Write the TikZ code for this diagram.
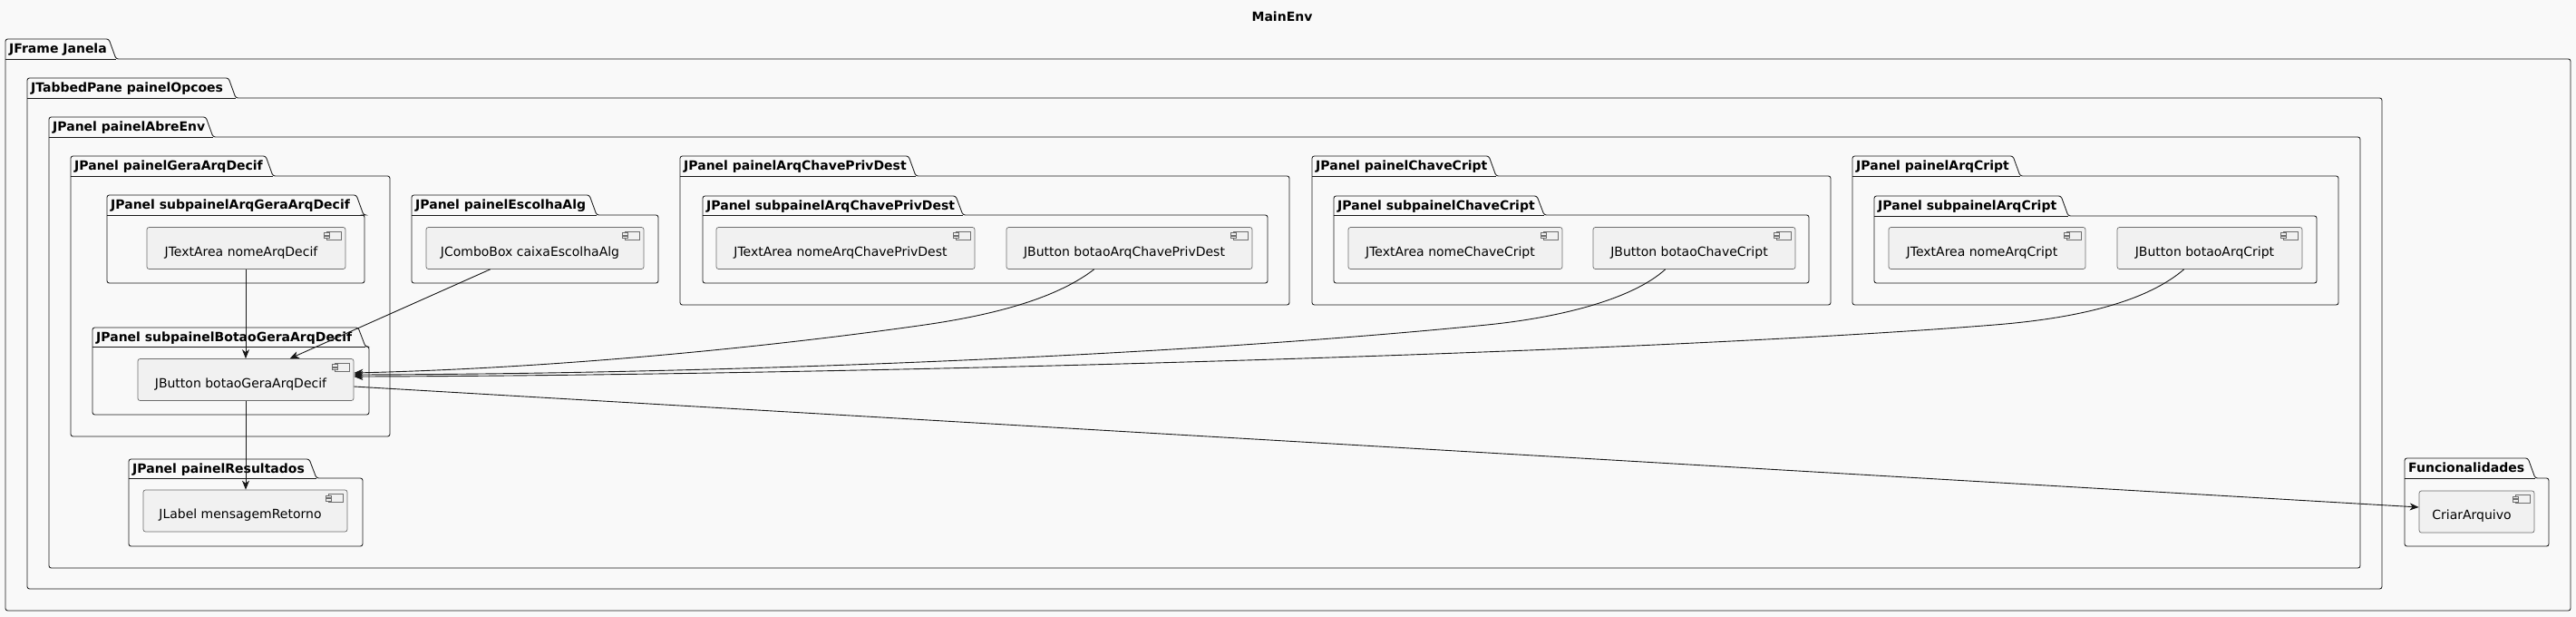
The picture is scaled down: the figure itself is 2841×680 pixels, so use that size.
\documentclass[tikz,border=0pt]{standalone}
\usepackage{fontspec}
\setmainfont{DejaVu Sans}
\usetikzlibrary{calc,arrows.meta}
\definecolor{bg}{HTML}{F9F9F9}
\definecolor{compfill}{HTML}{F1F1F1}
\definecolor{ink}{HTML}{181818}
\definecolor{compline}{HTML}{6E6E6E}
\tikzset{
  pkgline/.style={draw=ink, line width=0.85pt, rounded corners=2.5pt},
  pkgtitle/.style={anchor=base west, inner sep=0pt, text=black, font=\bfseries\fontsize{14pt}{16pt}\selectfont},
  comp/.style={draw=compline, fill=compfill, line width=0.7pt, rounded corners=2.5pt,
    minimum height=46pt, text height=17pt, text depth=0pt, inner xsep=0pt, inner ysep=2pt,
    font=\fontsize{14pt}{16pt}\selectfont},
  iconbox/.style={draw=compline, fill=compfill, line width=0.6pt},
  arr/.style={draw=ink, line width=0.9pt, -{Stealth[length=10pt,width=8pt,inset=3pt]}},
}
\newcommand\pkgbox[8]{%
  \draw[pkgline] (#1,#4) -- (#1,#2) -- ({#3-8},#2) -- (#3,#4) -- (#5,#4) -- (#5,#6) -- (#1,#6) -- cycle;
  \draw[draw=ink, line width=0.85pt] (#1,#4) -- (#3,#4);
  \node[pkgtitle] (#7) at ({#1+4},{#2+15.5}) {#8};}
\newcommand\compnode[5]{%
  \node[comp, minimum width=#4pt] (#1) at (#2,#3) {#5\hspace*{11pt}};
  \draw[iconbox] ($(#1.north east)+(-21,5)$) rectangle ($(#1.north east)+(-5,14)$);
  \draw[iconbox] ($(#1.north east)+(-24,6.5)$) rectangle ($(#1.north east)+(-18,9)$);
  \draw[iconbox] ($(#1.north east)+(-24,10)$) rectangle ($(#1.north east)+(-18,12.5)$);}
\begin{document}
\begin{tikzpicture}[x=1pt,y=-1pt]
\fill[bg] (0,0) rectangle (2841,680);
\useasboundingbox (0,0) rectangle (2841,680);
\node[font=\bfseries\fontsize{14pt}{16pt}\selectfont, inner sep=0pt] (title) at (1414,18) {MainEnv};

\pkgbox{6}{43}{128}{65}{2835}{673}{tJanela}{JFrame Janela}
\pkgbox{30}{86}{260}{108}{2627}{649}{tOpcoes}{JTabbedPane painelOpcoes}
\pkgbox{54}{129}{235}{151}{2603}{626}{tAbreEnv}{JPanel painelAbreEnv}
\pkgbox{78}{172}{301}{194}{430}{481}{tGera}{JPanel painelGeraArqDecif}
\pkgbox{118}{215}{401}{237}{402}{312}{tSubArqGera}{JPanel subpainelArqGeraArqDecif}
\pkgbox{102}{361}{403}{382}{407}{457}{tSubBotao}{JPanel subpainelBotaoGeraArqDecif}
\pkgbox{454}{215}{658}{237}{726}{312}{tEscolha}{JPanel painelEscolhaAlg}
\pkgbox{142}{506}{349}{527}{400}{602}{tResult}{JPanel painelResultados}
\pkgbox{750}{172}{1010}{194}{1422}{336}{tChavePriv}{JPanel painelArqChavePrivDest}
\pkgbox{775}{216}{1062}{237}{1398}{312}{tSubChavePriv}{JPanel subpainelArqChavePrivDest}
\pkgbox{1447}{172}{1650}{194}{2019}{336}{tChaveCript}{JPanel painelChaveCript}
\pkgbox{1471}{216}{1703}{237}{1995}{312}{tSubChaveCript}{JPanel subpainelChaveCript}
\pkgbox{2043}{172}{2228}{194}{2579}{336}{tArqCript}{JPanel painelArqCript}
\pkgbox{2067}{216}{2281}{238}{2555}{312}{tSubArqCript}{JPanel subpainelArqCript}
\pkgbox{2652}{505}{2796}{527}{2811}{602}{tFunc}{Funcionalidades}

\compnode{nomeArqDecif}{271.5}{273.5}{219}{JTextArea nomeArqDecif}
\compnode{caixa}{590}{273.5}{240}{JComboBox caixaEscolhaAlg}
\compnode{nomeChavePriv}{932.5}{273.5}{285}{JTextArea nomeArqChavePrivDest}
\compnode{botaoChavePriv}{1245.5}{273.5}{271}{JButton botaoArqChavePrivDest}
\compnode{nomeChaveCript}{1605}{273.5}{236}{JTextArea nomeChaveCript}
\compnode{botaoChaveCript}{1868.5}{273.5}{223}{JButton botaoChaveCript}
\compnode{nomeArqCript}{2191.5}{273.5}{217}{JTextArea nomeArqCript}
\compnode{botaoArqCript}{2437}{273.5}{204}{JButton botaoArqCript}
\compnode{botaoGera}{271}{418.5}{238}{JButton botaoGeraArqDecif}
\compnode{mensagem}{270.5}{563}{225}{JLabel mensagemRetorno}
\compnode{criar}{2731.5}{564}{127}{CriarArquivo}

\draw[arr] (nomeArqDecif.south -| botaoGera.north) -- (botaoGera.north);
\draw[arr] ($(caixa.south west)+(71,0)$) -- ($(botaoGera.north west)+(168,0)$);
\draw[arr] (botaoGera.south) -- (mensagem.north -| botaoGera.south);
\draw[arr] ($(botaoChavePriv.south west)+(97,0)$) .. controls (1170,325) and (1110,345) .. (1020,358)
   .. controls (880,378) and (640,405) .. ($(botaoGera.east)+(0,-7.5)$);
\draw[arr] ($(botaoChaveCript.south west)+(80,0)$) .. controls (1800,330) and (1720,350) .. (1640,358)
   .. controls (1300,392) and (800,412) .. ($(botaoGera.east)+(0,-5.5)$);
\draw[arr] ($(botaoArqCript.south west)+(74,0)$) .. controls (2370,330) and (2300,350) .. (2200,358)
   .. controls (1800,390) and (900,414) .. ($(botaoGera.east)+(0,-3.5)$);
\draw[arr] ($(botaoGera.east)+(0,7.5)$) -- ($(criar.west)+(0,-5)$);
\end{tikzpicture}
\end{document}
